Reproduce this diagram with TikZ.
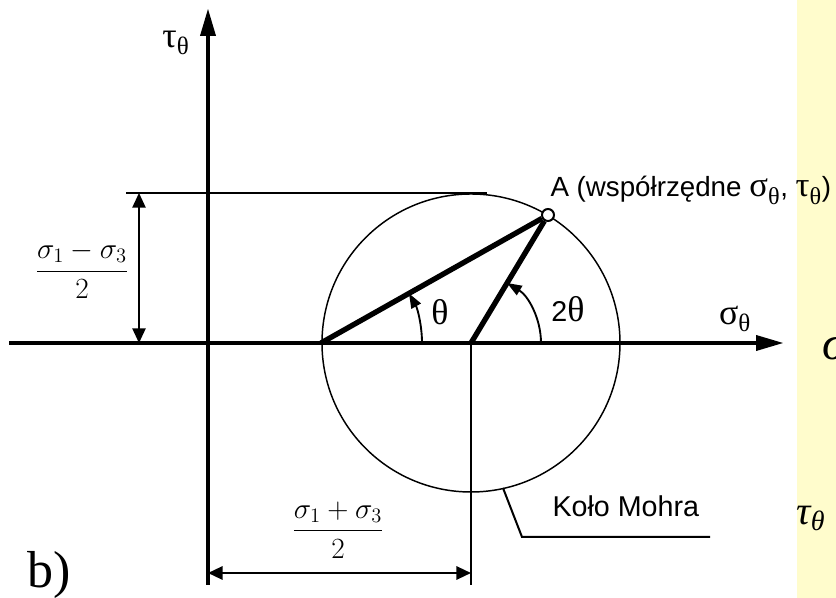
\RequirePackage{fix-cm}
\documentclass[tikz,border=0pt]{standalone}
\usepackage{amsmath}
\usepackage{fontspec}
\setmainfont{Liberation Sans}
\newfontfamily\grk{Liberation Serif}[Scale=1.25]
\newfontfamily\tms{Liberation Serif}
\usetikzlibrary{arrows.meta}

\tikzset{every picture/.style={line width=0.75pt}}
\tikzset{
  axisline/.style={line width=3.4pt, -{Triangle[length=21pt,width=11pt]}},
  radline/.style={line width=4pt},
  thinline/.style={line width=1.1pt},
  dimline/.style={line width=1.1pt, {Triangle[length=11pt,width=10pt]}-{Triangle[length=11pt,width=10pt]}},
  angarrow/.style={line width=1.4pt, -{Triangle[length=11pt,width=8pt]}},
  lbl/.style={inner sep=0pt, font=\fontsize{21.5}{25}\selectfont},
  fraclbl/.style={inner sep=0pt, font=\fontsize{22}{26}\selectfont},
}

\begin{document}
\begin{tikzpicture}[x=0.75pt,y=0.75pt,yscale=-1,xscale=1]
		\clip (0,0) rectangle (836,598);
		%Shape: Rectangle (yellow strip)
		\fill [yellow!20] (797,0) rectangle (836,598);
		
		% Coordinates
		\coordinate (xs) at (9,343);
		\coordinate (xe) at (784,343);
		\coordinate (yb) at (208,585);
		\coordinate (ye) at (208,8);
		\coordinate (C) at (471,343);
		\coordinate (Cb) at (471,585);
		\coordinate (L) at (321,343);
		\coordinate (topl) at (126,193);
		\coordinate (topr) at (487,193);
		\coordinate (dl1) at (139,193);
		\coordinate (dl2) at (139,343);
		\coordinate (db1) at (208,573);
		\coordinate (db2) at (471,573);
		\coordinate (k1) at (503,488);
		\coordinate (k2) at (522,537);
		\coordinate (k3) at (710,537);
		
		%Straight Lines (axes)
		\draw [axisline] (xs) -- (xe) ;
		\draw [axisline] (yb) -- (ye) ;
		%Shape: Circle
		\draw [thinline] (C) circle (149) ;
		%Straight Lines
		\draw [line width=1.6pt] (C) -- (Cb) ;
		\draw [thinline] (topl) -- (topr) ;
		\draw [dimline] (dl1) -- (dl2) ;
		\draw [dimline, line width=1.7pt] (db1) -- (db2) ;
		\draw [line width=1.5pt] (k1) -- (k2) -- (k3) ;
		%Shape: Arcs
		\draw [angarrow] (422,343) arc (0:-29.4:101) ;
		\draw [angarrow] (541,343) arc (0:-59:70) ;
		
		% Point A
		\node [circle, draw, fill=white, line width=1.5pt, minimum size=9pt, inner sep=0pt] (A) at (548,215) {};
		\draw [radline] (L) -- (A) ;
		\draw [radline] (C) -- (A) ;
		
		% Text Node
		\node [lbl] (tauax) at (176,43) {\grk τ\textsubscript{θ}};
		% Text Node
		\node [lbl] (sigax) at (735,319) {\grk σ\textsubscript{θ}};
		% Text Node
		\node [lbl] (th) at (440,312) {\grk θ};
		% Text Node
		\node [lbl] (th2) at (568,309) {2{\grk θ}};
		% Text Node
		\node [lbl, anchor=base west, font=\fontsize{20.8}{25}\selectfont] (Alab) at (550,197) {A (współrzędne {\grk σ\textsubscript{θ}}, {\grk τ\textsubscript{θ}})};
		% Text Node
		\node [lbl, anchor=base west] (kolo) at (552,517) {Koło Mohra};
		% Text Node
		\node [fraclbl] (fminus) at (82,270) {$\dfrac{\sigma_1-\sigma_3}{2}$};
		% Text Node
		\node [fraclbl] (fplus) at (338,530) {$\dfrac{\sigma_1+\sigma_3}{2}$};
		% Text Node
		\node [anchor=base west, inner sep=0pt, font=\tms\fontsize{39}{39}\selectfont] (blab) at (27,588) {b)};
		% Text Node
		\node [anchor=base west, inner sep=0pt, font=\tms\itshape\fontsize{36}{36}\selectfont] (sigR) at (822,360) {σ};
		% Text Node
		\node [anchor=base west, inner sep=0pt, font=\tms\itshape\fontsize{30}{30}\selectfont] (tauR) at (796,525) {τ\textsubscript{θ}};
\end{tikzpicture}
\end{document}
